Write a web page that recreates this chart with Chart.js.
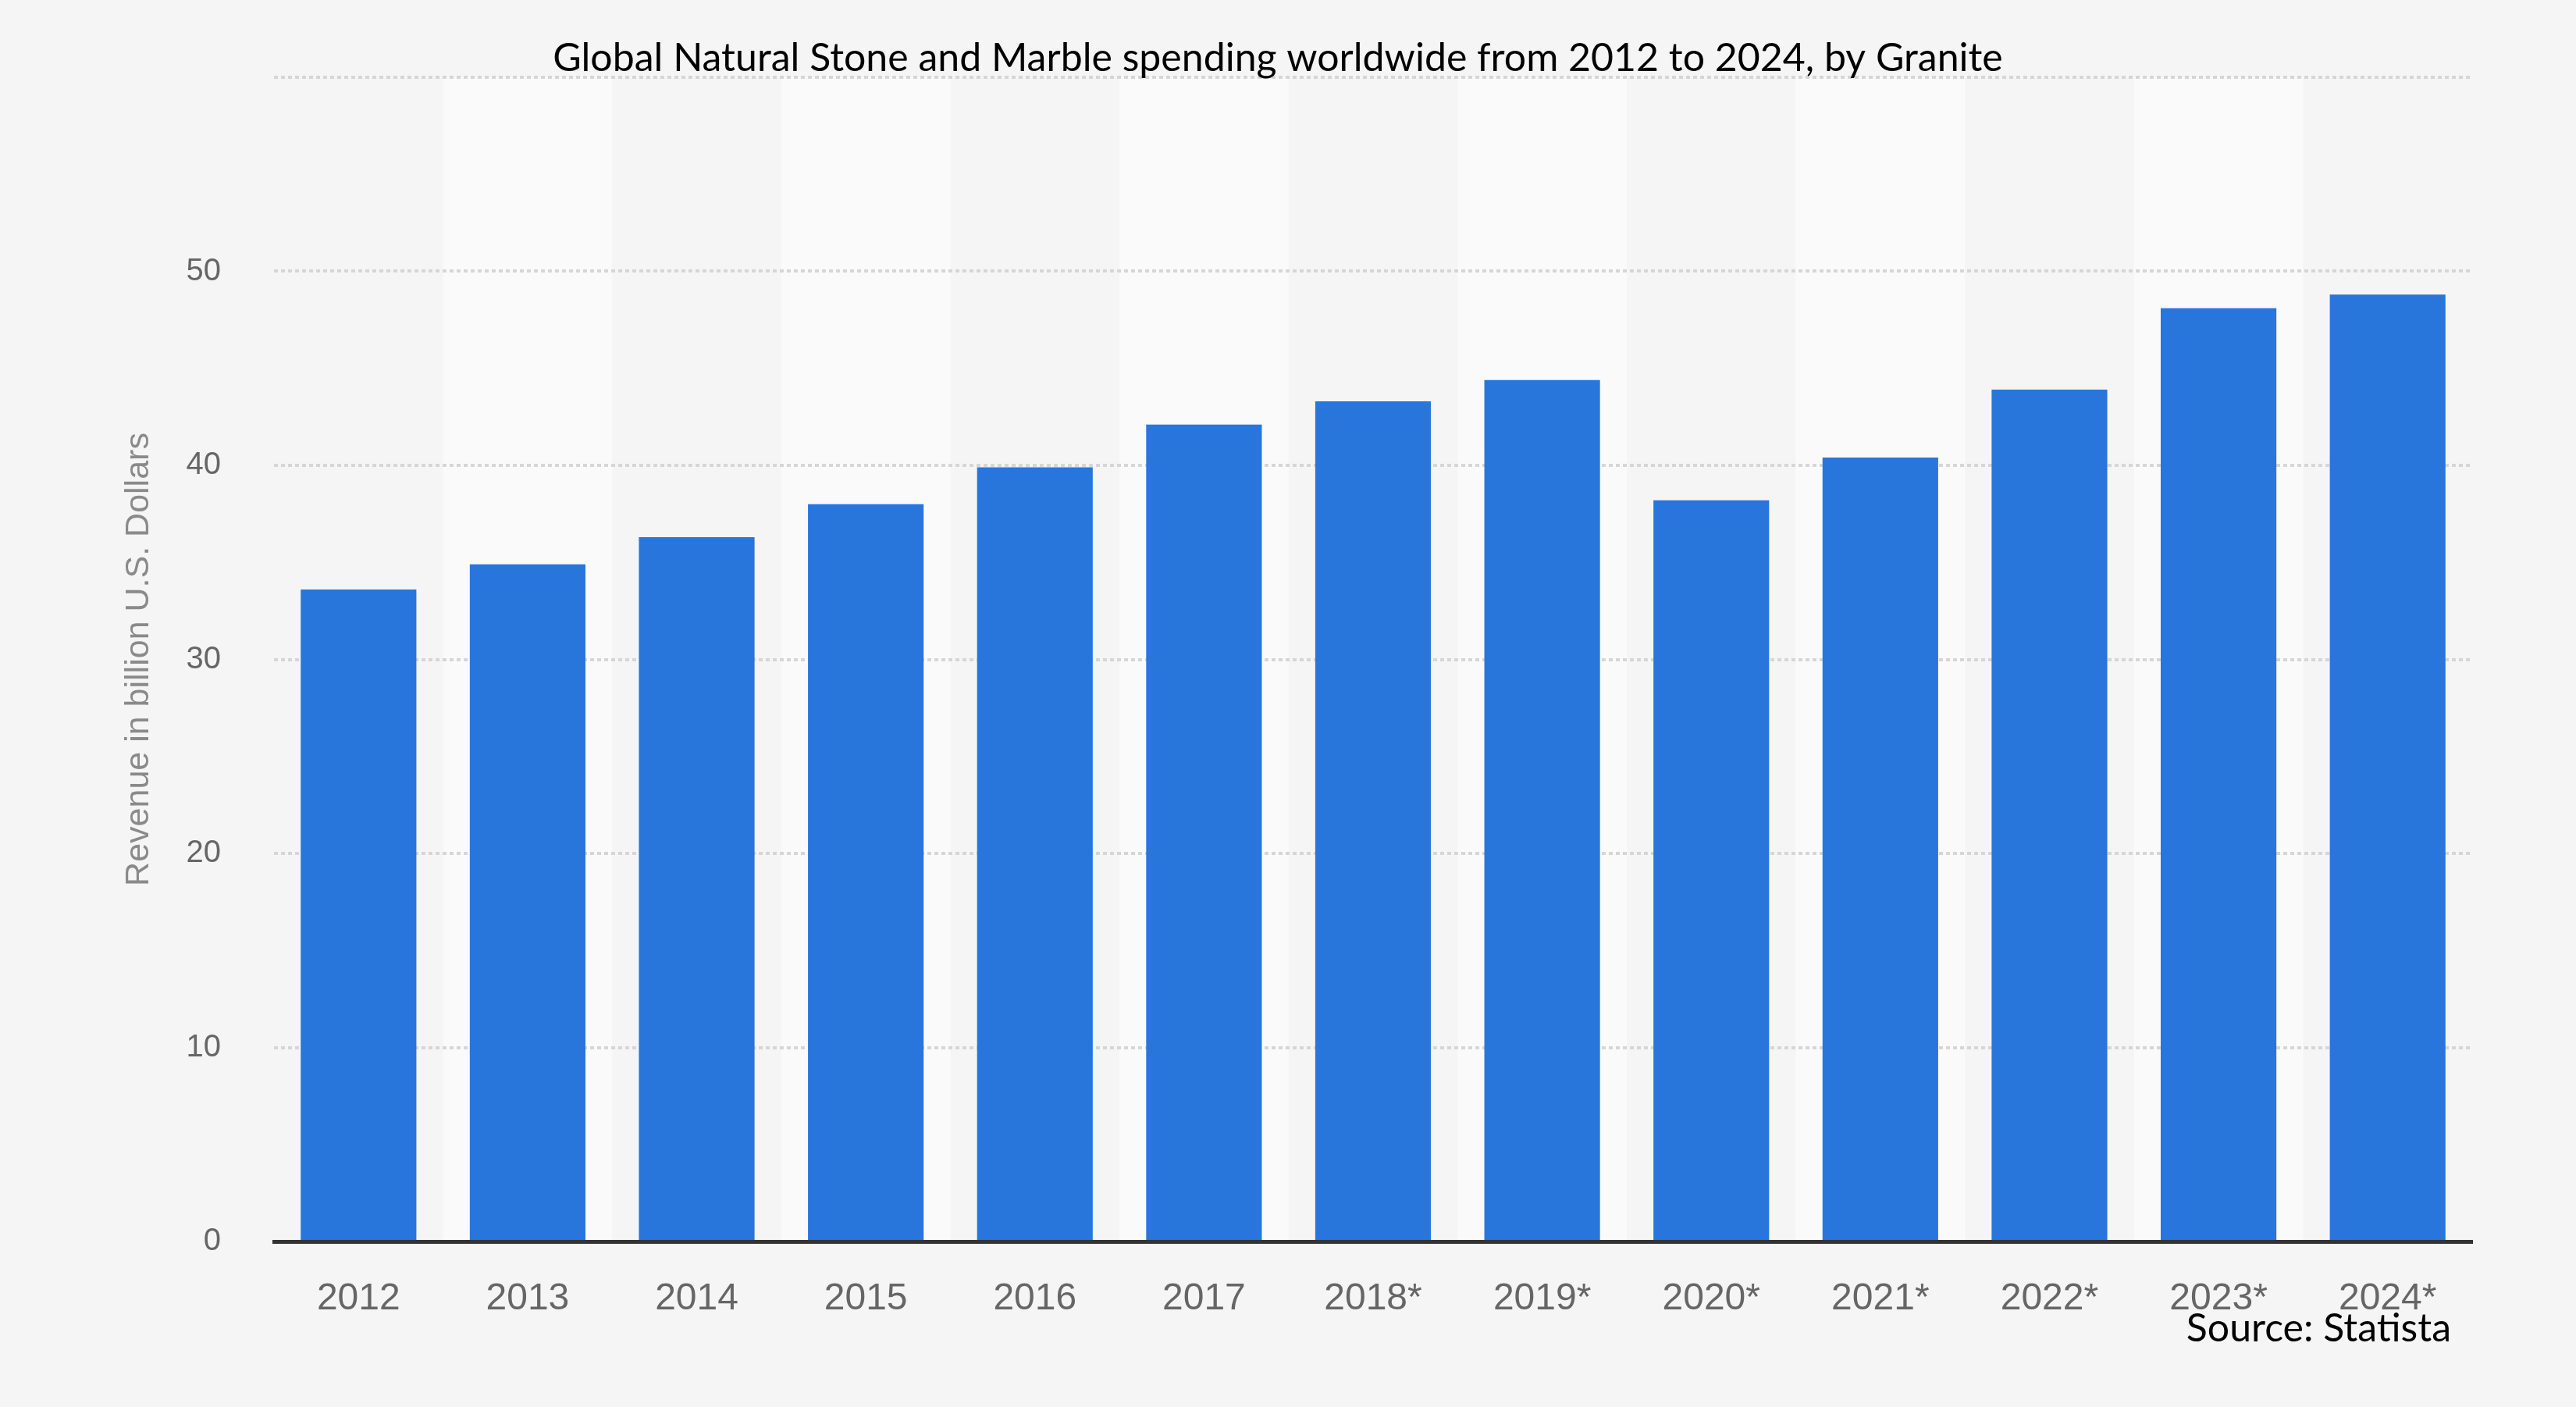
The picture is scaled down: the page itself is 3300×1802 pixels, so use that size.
<!DOCTYPE html>
<html>
<head>
<meta charset="utf-8">
<title>Global Natural Stone and Marble spending</title>
<script src="https://cdn.jsdelivr.net/npm/chart.js@4.4.1/dist/chart.umd.min.js"></script>
<style>
  html, body { margin: 0; padding: 0; background: #f5f5f5; }
  #wrap { width: 3300px; height: 1802px; position: relative; }
</style>
</head>
<body>
<div id="wrap"><canvas id="chart"></canvas></div>
<script>
// data
const years = ['2012', '2013', '2014', '2015', '2016', '2017', '2018*', '2019*',
               '2020*', '2021*', '2022*', '2023*', '2024*'];
const revenue = [33.6, 34.9, 36.3, 38.0, 39.9, 42.1, 43.3, 44.4, 38.2, 40.4, 43.9, 48.1, 48.8];
const yTicks = [0, 10, 20, 30, 40, 50, 60];
const yTickLabels = ['0', '10', '20', '30', '40', '50', ''];
const chartTitle = 'Global Natural Stone and Marble spending worldwide from 2012 to 2024, by Granite';
const sourceNote = 'Source: Statista';

// page background + alternating column stripes behind the grid
const stripes = {
  id: 'stripes',
  beforeDraw(chart) {
    const { ctx, chartArea: a, scales: { x } } = chart;
    ctx.save();
    ctx.fillStyle = '#f5f5f5';
    ctx.fillRect(0, 0, chart.width, chart.height);
    const w = (a.right - a.left) / years.length;
    ctx.fillStyle = '#fafafa';
    years.forEach((_, i) => {
      if (i % 2 === 1) {
        const cx = x.getPixelForTick(i);
        ctx.fillRect(cx - w / 2, a.top, w, a.bottom - a.top);
      }
    });
    ctx.restore();
  }
};

// title and source note, pasted on like in the original image
const captions = {
  id: 'captions',
  afterDraw(chart) {
    const { ctx } = chart;
    ctx.save();
    ctx.fillStyle = '#000';
    ctx.textBaseline = 'alphabetic';
    ctx.font = '50px Lato';
    ctx.textAlign = 'center';
    ctx.fillText(chartTitle, 1637, 91);
    ctx.font = '50px Lato';
    ctx.textAlign = 'right';
    ctx.fillText(sourceNote, 3140, 1718);
    ctx.restore();
  }
};

new Chart(document.getElementById('chart'), {
  type: 'bar',
  data: {
    labels: years,
    datasets: [{
      label: 'Revenue',
      data: revenue,
      backgroundColor: '#2876dc',
      borderWidth: 0,
      categoryPercentage: 1,
      barPercentage: 0.684
    }]
  },
  options: {
    responsive: true,
    maintainAspectRatio: false,
    devicePixelRatio: 1,
    animation: false,
    layout: { padding: { top: 99, right: 133, bottom: 0, left: 0 } },
    plugins: {
      legend: { display: false },
      tooltip: { enabled: false },
      title: { display: false }
    },
    scales: {
      x: {
        grid: { display: false },
        border: { display: true, color: '#333333', width: 5, z: 1 },
        ticks: {
          color: '#666666',
          font: { family: 'Liberation Sans', size: 48 },
          padding: 37,
          maxRotation: 0,
          autoSkip: false
        },
        afterFit(scale) { scale.height = 212; }
      },
      y: {
        min: 0,
        max: 60,
        afterBuildTicks(scale) {
          scale.ticks = yTicks.map(v => ({ value: v }));
        },
        grid: {
          color: ctx => (ctx.tick && ctx.tick.value === 0 ? 'rgba(0,0,0,0)' : '#d6d6d6'),
          lineWidth: 4,
          drawTicks: false
        },
        border: { display: false, dash: [5, 4] },
        ticks: {
          color: '#666666',
          font: { family: 'Liberation Sans', size: 40 },
          padding: 68,
          callback: (v, i) => yTickLabels[i]
        },
        title: {
          display: true,
          text: 'Revenue in billion U.S. Dollars',
          color: '#8a8a8a',
          font: { family: 'Liberation Sans', size: 43 },
          padding: { top: 152, bottom: 0 }
        },
        afterFit(scale) { scale.width = 351; }
      }
    }
  },
  plugins: [stripes, captions]
});
</script>
</body>
</html>
